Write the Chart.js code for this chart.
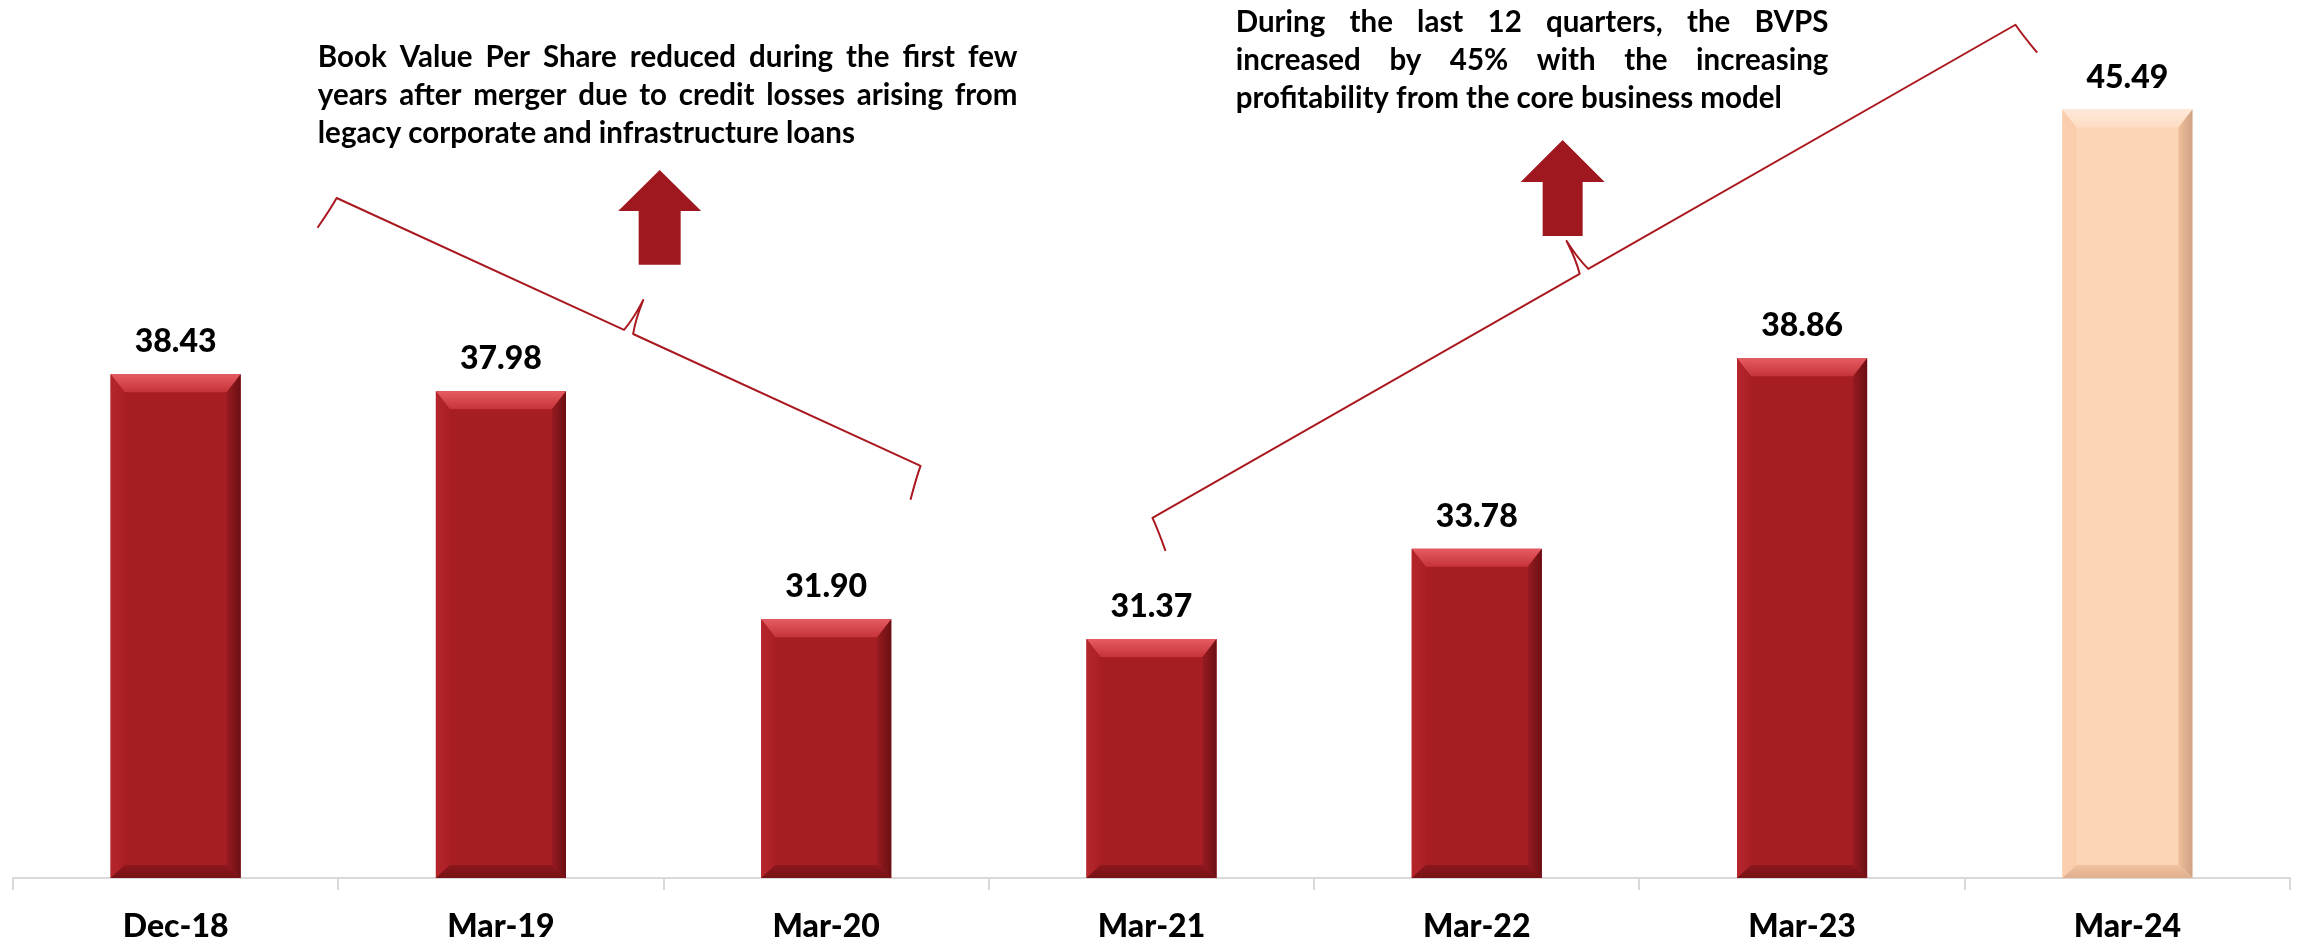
<!DOCTYPE html>
<html>
<head>
<meta charset="utf-8">
<title>Book Value Per Share</title>
<script src="https://cdn.jsdelivr.net/npm/chart.js@4.4.1/dist/chart.umd.min.js"></script>
<style>
  html, body { margin: 0; padding: 0; background: #ffffff; }
  #wrap { position: relative; width: 2297px; height: 945px; }
</style>
</head>
<body>
<div id="wrap"><canvas id="bvps"></canvas></div>
<script>
// book value per share, by period
var periods = ['Dec-18', 'Mar-19', 'Mar-20', 'Mar-21', 'Mar-22', 'Mar-23', 'Mar-24'];
var bookValue = [38.43, 37.98, 31.90, 31.37, 33.78, 38.86, 45.49];
var latest = [false, false, false, false, false, false, true];
var axisFloor = 25;
var axisCeil = 48.41;

// commentary blocks
var noteDown = [
  'Book Value Per Share reduced during the first few',
  'years after merger due to credit losses arising from',
  'legacy corporate and infrastructure loans'
];
var noteUp = [
  'During the last 12 quarters, the BVPS',
  'increased by 45% with the increasing',
  'profitability from the core business model'
];

var FONT = 'Lato, "Open Sans", "Noto Sans", sans-serif';
var INK = '#000000';
var LINE_RED = '#a9191f';
var ARROW_RED = '#a0181f';

var bevelRed = {
  face: '#a61e24',
  top: ['#e55c62', '#c6333a'],
  left: ['#b6262c', '#a91f25'],
  right: ['#961b20', '#6c0f13'],
  bottom: ['#8e171c', '#761216']
};
var bevelPeach = {
  face: '#fcd5b6',
  top: ['#fee9d8', '#fddcc3'],
  left: ['#fbcfae', '#f9cdab'],
  right: ['#efbf9b', '#cfa283'],
  bottom: ['#f0c3a2', '#e0ae8c']
};

// annotation placement, in (category index, value) coordinates
var notes = {
  down: { lines: noteDown, left: 0.437, right: 2.588, baselines: [46.63, 45.61, 44.60] },
  up:   { lines: noteUp,   left: 3.259, right: 5.081, baselines: [47.56, 46.55, 45.53] }
};
var arrows = [
  { tip: [1.488, 43.88], base: 41.35, headW: 83, headH: 41, shaftW: 42 },
  { tip: [4.264, 44.68], base: 42.12, headW: 84, headH: 42, shaftW: 40 }
];
var braces = [
  { from: [0.495, 43.13], to: [2.290, 35.99], depth: 35 },
  { from: [3.003, 34.60], to: [5.656, 47.75], depth: 35 }
];

function grad(ctx, x0, y0, x1, y1, stops) {
  var g = ctx.createLinearGradient(x0, y0, x1, y1);
  g.addColorStop(0, stops[0]);
  g.addColorStop(1, stops[1]);
  return g;
}

function poly(ctx, pts, fill) {
  ctx.beginPath();
  ctx.moveTo(pts[0][0], pts[0][1]);
  for (var i = 1; i < pts.length; i++) ctx.lineTo(pts[i][0], pts[i][1]);
  ctx.closePath();
  ctx.fillStyle = fill;
  ctx.fill();
}

// bevelled faces on each bar plus the value printed above it
var bevelPlugin = {
  id: 'bevel',
  afterDatasetsDraw: function (chart) {
    var ctx = chart.ctx;
    var meta = chart.getDatasetMeta(0);
    ctx.save();
    meta.data.forEach(function (bar, i) {
      var p = latest[i] ? bevelPeach : bevelRed;
      var half = bar.width / 2;
      var x0 = bar.x - half, x1 = bar.x + half;
      var y0 = bar.y, y1 = bar.base;
      var bt = 18, bs = 14, bb = 13;
      poly(ctx, [[x0, y0], [x1, y0], [x1 - bs, y0 + bt], [x0 + bs, y0 + bt]], grad(ctx, 0, y0, 0, y0 + bt, p.top));
      poly(ctx, [[x0, y0], [x0 + bs, y0 + bt], [x0 + bs, y1 - bb], [x0, y1]], grad(ctx, x0, 0, x0 + bs, 0, p.left));
      poly(ctx, [[x1, y0], [x1, y1], [x1 - bs, y1 - bb], [x1 - bs, y0 + bt]], grad(ctx, x1 - bs, 0, x1, 0, p.right));
      poly(ctx, [[x0, y1], [x0 + bs, y1 - bb], [x1 - bs, y1 - bb], [x1, y1]], grad(ctx, 0, y1 - bb, 0, y1, p.bottom));

      ctx.fillStyle = INK;
      ctx.font = '900 32px ' + FONT;
      ctx.textAlign = 'center';
      ctx.textBaseline = 'alphabetic';
      ctx.fillText(bookValue[i].toFixed(2), bar.x, y0 - 22);
    });
    ctx.restore();
  }
};

function toPx(chart, pt) {
  return [chart.scales.x.getPixelForValue(pt[0]), chart.scales.y.getPixelForValue(pt[1])];
}

function drawNote(ctx, chart, note) {
  var xl = chart.scales.x.getPixelForValue(note.left);
  var xr = chart.scales.x.getPixelForValue(note.right);
  var width = xr - xl;
  ctx.font = 'bold 29.5px ' + FONT;
  ctx.fillStyle = INK;
  ctx.textAlign = 'left';
  ctx.textBaseline = 'alphabetic';
  note.lines.forEach(function (line, k) {
    var y = chart.scales.y.getPixelForValue(note.baselines[k]);
    var words = line.split(' ');
    var last = k === note.lines.length - 1;
    ctx.wordSpacing = '0px';
    if (!last && words.length > 1) {
      var extra = (width - ctx.measureText(line).width) / (words.length - 1);
      ctx.wordSpacing = extra + 'px';
    }
    ctx.fillText(line, xl, y);
  });
  ctx.wordSpacing = '0px';
}

function drawArrow(ctx, chart, a) {
  var tip = toPx(chart, a.tip);
  var yb = chart.scales.y.getPixelForValue(a.base);
  var hw = a.headW / 2, sw = a.shaftW / 2, yh = tip[1] + a.headH;
  poly(ctx, [
    [tip[0], tip[1]], [tip[0] + hw, yh], [tip[0] + sw, yh], [tip[0] + sw, yb],
    [tip[0] - sw, yb], [tip[0] - sw, yh], [tip[0] - hw, yh]
  ], ARROW_RED);
}

function drawBrace(ctx, chart, b) {
  var A = toPx(chart, b.from), B = toPx(chart, b.to);
  var dx = B[0] - A[0], dy = B[1] - A[1];
  var len = Math.sqrt(dx * dx + dy * dy);
  var u = [dx / len, dy / len];
  var n = [u[1], -u[0]];
  if (n[1] > 0) n = [-n[0], -n[1]];
  var d = b.depth, g = 5;
  function at(base, su, sn) { return [base[0] + u[0] * su + n[0] * sn, base[1] + u[1] * su + n[1] * sn]; }
  var M = [(A[0] + B[0]) / 2, (A[1] + B[1]) / 2];
  var s = at(A, -5, -d), c1 = at(A, -1, -d * 0.35);
  var m1 = at(M, -g, 0), k1 = at(M, -1, d * 0.4), tip = at(M, 0, d);
  var k2 = at(M, 1, d * 0.4), m2 = at(M, g, 0);
  var c2 = at(B, 1, -d * 0.35), e = at(B, 5, -d);
  ctx.beginPath();
  ctx.moveTo(s[0], s[1]);
  ctx.quadraticCurveTo(c1[0], c1[1], A[0], A[1]);
  ctx.lineTo(m1[0], m1[1]);
  ctx.quadraticCurveTo(k1[0], k1[1], tip[0], tip[1]);
  ctx.quadraticCurveTo(k2[0], k2[1], m2[0], m2[1]);
  ctx.lineTo(B[0], B[1]);
  ctx.quadraticCurveTo(c2[0], c2[1], e[0], e[1]);
  ctx.strokeStyle = LINE_RED;
  ctx.lineWidth = 2;
  ctx.lineJoin = 'round';
  ctx.stroke();
}

var notesPlugin = {
  id: 'notes',
  afterDraw: function (chart) {
    var ctx = chart.ctx;
    ctx.save();
    braces.forEach(function (b) { drawBrace(ctx, chart, b); });
    arrows.forEach(function (a) { drawArrow(ctx, chart, a); });
    drawNote(ctx, chart, notes.down);
    drawNote(ctx, chart, notes.up);
    ctx.restore();
  }
};

new Chart(document.getElementById('bvps'), {
  type: 'bar',
  data: {
    labels: periods,
    datasets: [{
      data: bookValue,
      base: axisFloor,
      backgroundColor: latest.map(function (f) { return f ? bevelPeach.face : bevelRed.face; }),
      borderWidth: 0,
      barPercentage: 0.4,
      categoryPercentage: 1.0
    }]
  },
  options: {
    responsive: true,
    maintainAspectRatio: false,
    animation: false,
    events: [],
    layout: { padding: { left: 13, right: 7, top: 0, bottom: 0 } },
    plugins: {
      legend: { display: false },
      tooltip: { enabled: false }
    },
    scales: {
      x: {
        offset: true,
        border: { display: true, color: '#d9d9d9', width: 2 },
        grid: {
          offset: true,
          drawOnChartArea: false,
          drawTicks: true,
          tickLength: 12,
          color: '#d9d9d9',
          lineWidth: 2
        },
        ticks: {
          color: INK,
          padding: 17,
          maxRotation: 0,
          font: { family: FONT, size: 32, weight: '900' }
        },
        afterFit: function (scale) { scale.height = 67; }
      },
      y: {
        display: false,
        min: axisFloor,
        max: axisCeil
      }
    }
  },
  plugins: [bevelPlugin, notesPlugin]
});
</script>
</body>
</html>
